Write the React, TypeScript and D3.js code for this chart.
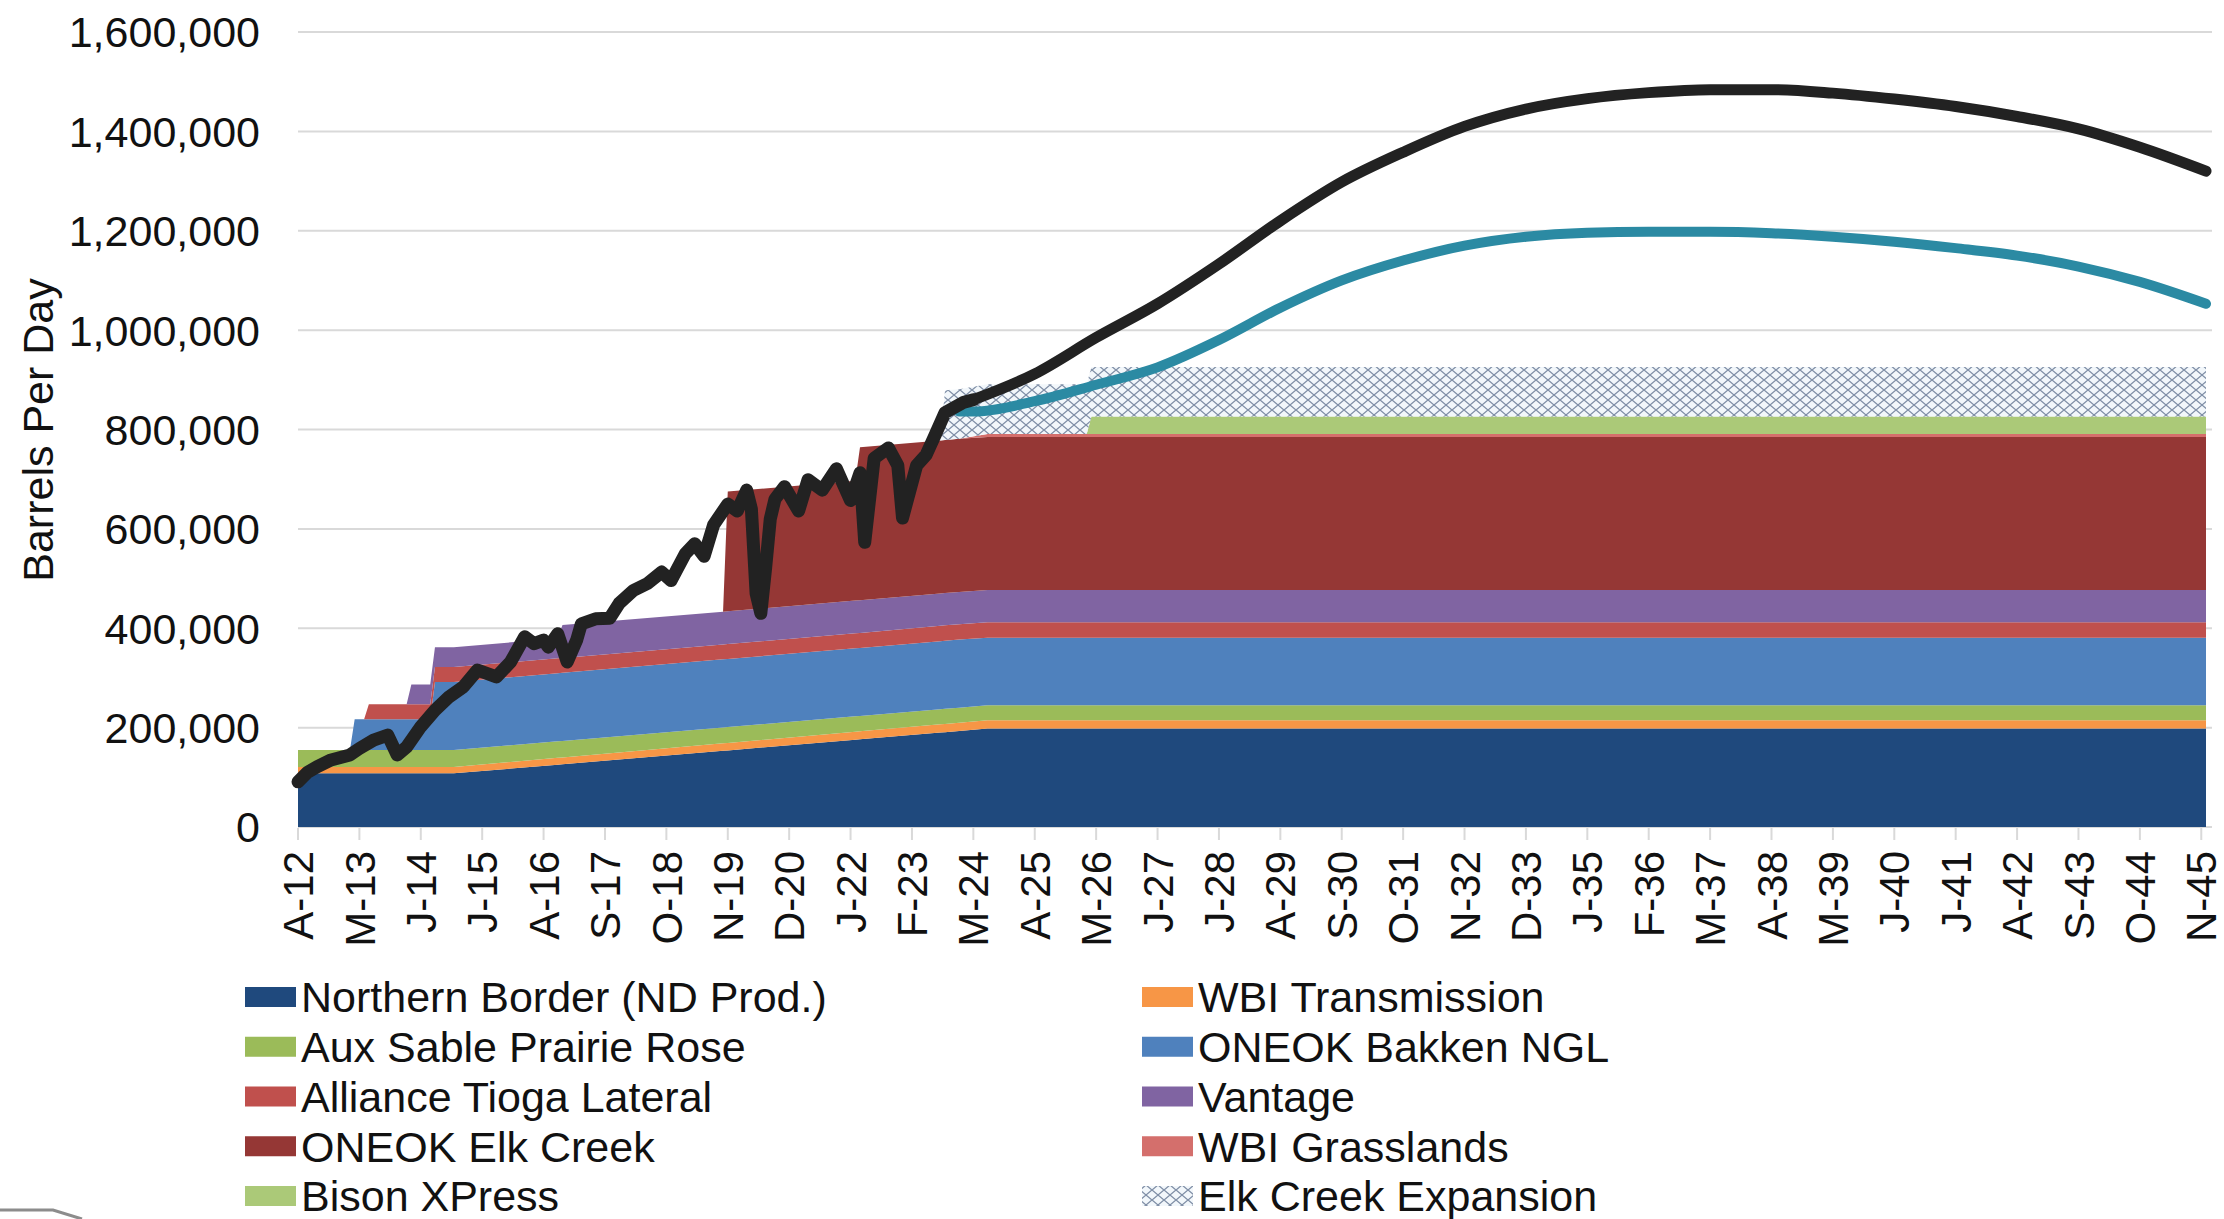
import React from 'react';
import * as d3 from 'd3';

const W = 2224;
const H = 1219;

// Month index counted from Apr-2012 (0) to Dec-2045 (404)
const keyMonths = [0, 11, 12, 14, 15, 23, 24, 28, 29, 33, 55, 56, 90, 91, 118, 119, 136, 137, 140, 146, 167, 168, 404];

// Stacked capacity layers, thousand barrels per day, at keyMonths
const northernBorder = [108, 108, 108, 108, 108, 108, 108, 108, 108, 108, 125.5, 126.3, 153.4, 154.2, 175.7, 176.5, 190, 190.8, 193.2, 198, 198, 198, 198];
const wbiTransmission = [13, 13, 13, 13, 13, 13, 13, 13, 13, 13, 13.8, 13.8, 15, 15.1, 16, 16, 16.6, 16.6, 16.8, 17, 17, 17, 17];
const auxSable = [34, 34, 34, 34, 34, 34, 34, 34, 34, 34, 33.2, 33.2, 32, 31.9, 31, 31, 30.4, 30.4, 30.2, 30, 30, 30, 30];
const bakkenNGL = [0, 0, 62, 62, 62, 62, 62, 62, 137, 137, 137, 137, 137, 137, 137, 137, 137, 137, 137, 136, 136, 136, 136];
const allianceTioga = [0, 0, 0, 0, 30, 30, 30, 30, 30, 30, 30, 30, 30, 30, 30, 30, 31, 31, 31, 31, 31, 31, 31];
const vantage = [0, 0, 0, 0, 0, 0, 40, 40, 40, 40, 40, 66, 66, 66, 66, 66, 65, 65, 65, 65, 65, 65, 65];
const elkCreek = [0, 0, 0, 0, 0, 0, 0, 0, 0, 0, 0, 0, 0, 241, 241, 308, 308, 308, 308, 308, 308, 308, 308];
const wbiGrasslands = [0, 0, 0, 0, 0, 0, 0, 0, 0, 0, 0, 0, 0, 0, 0, 0, 0, 0, 0, 6, 6, 6, 6];
const bisonXpress = [0, 0, 0, 0, 0, 0, 0, 0, 0, 0, 0, 0, 0, 0, 0, 0, 0, 0, 0, 0, 0, 35, 35];
const elkCreekExpansion = [0, 0, 0, 0, 0, 0, 0, 0, 0, 0, 0, 0, 0, 0, 0, 0, 0, 100, 100, 100, 100, 100, 100];

const seriesKeys = ['nb', 'wbiT', 'aux', 'bak', 'all', 'van', 'elk', 'wbiG', 'bison', 'exp'];
const seriesNames = [
  'Northern Border (ND Prod.)', 'WBI Transmission', 'Aux Sable Prairie Rose', 'ONEOK Bakken NGL',
  'Alliance Tioga Lateral', 'Vantage', 'ONEOK Elk Creek', 'WBI Grasslands', 'Bison XPress', 'Elk Creek Expansion',
];
const seriesColors = ['#1f497d', '#f79646', '#9bbb59', '#4f81bd', '#c0504d', '#8064a2', '#953735', '#d46f6c', '#abc978', 'url(#hatch)'];
const seriesValues = [northernBorder, wbiTransmission, auxSable, bakkenNGL, allianceTioga, vantage, elkCreek, wbiGrasslands, bisonXpress, elkCreekExpansion];

// Historical production (black line), thousand bbl/d
const histMonths = [0, 2, 4, 7, 9, 11, 13, 16, 19, 21, 23, 26, 29, 32, 35, 38, 42, 45, 48, 50, 52, 53, 55, 57, 59, 60, 63, 66, 68, 71, 74, 77, 79, 82, 84, 86, 88, 91, 93, 95, 96, 97, 98, 99, 100, 101, 103, 106, 108, 111, 114, 117, 119, 120, 122, 125, 127, 128, 131, 133, 135, 137, 141, 143];
const histValues = [91, 110, 121, 135, 140, 145, 158, 175, 185, 145, 161, 202, 235, 262, 282, 316, 302, 332, 383, 369, 376, 362, 389, 332, 376, 409, 419, 420, 450, 476, 490, 513, 496, 550, 570, 545, 608, 650, 636, 678, 640, 470, 430, 520, 620, 660, 685, 636, 699, 678, 721, 657, 713, 573, 742, 763, 728, 622, 728, 749, 791, 834, 855, 860];

// Forecasts
const highMonths = [143, 156, 169, 182, 195, 208, 221, 234, 247, 260, 273, 286, 299, 312, 325, 338, 351, 364, 377, 390, 404];
const highValues = [860, 912, 985, 1053, 1133, 1220, 1298, 1358, 1410, 1445, 1466, 1478, 1484, 1484, 1477, 1465, 1450, 1430, 1405, 1368, 1320];
const lowMonths = [140, 143, 156, 169, 182, 195, 208, 221, 234, 247, 260, 273, 286, 299, 312, 325, 338, 351, 364, 377, 390, 404];
const lowValues = [836, 836, 857, 890, 925, 980, 1045, 1100, 1140, 1170, 1188, 1196, 1198, 1198, 1195, 1188, 1178, 1165, 1150, 1128, 1097, 1053];

const tickLabels = ['A-12', 'M-13', 'J-14', 'J-15', 'A-16', 'S-17', 'O-18', 'N-19', 'D-20', 'J-22', 'F-23', 'M-24', 'A-25', 'M-26', 'J-27', 'J-28', 'A-29', 'S-30', 'O-31', 'N-32', 'D-33', 'J-35', 'F-36', 'M-37', 'A-38', 'M-39', 'J-40', 'J-41', 'A-42', 'S-43', 'O-44', 'N-45'];
const tickStep = 13;
const yTicks = [0, 200000, 400000, 600000, 800000, 1000000, 1200000, 1400000, 1600000];

const FONT = '"Liberation Sans", Arial, sans-serif';

export default function App() {
  React.useEffect(() => {
    document.body.style.margin = '0';
  }, []);

  const x = d3.scaleLinear().domain([0, 404]).range([298, 2206]);
  const y = d3.scaleLinear().domain([0, 1600000]).range([827, 32]);

  const rows = keyMonths.map((m, i) => {
    const r: any = { month: m };
    seriesKeys.forEach((k, j) => { r[k] = seriesValues[j][i] * 1000; });
    return r;
  });
  const stacked = d3.stack().keys(seriesKeys)(rows);
  const area = d3.area<any>()
    .x((d) => x(d.data.month))
    .y0((d) => y(d[0]))
    .y1((d) => y(d[1]))
    .curve(d3.curveLinear);

  const hist = d3.line<number>()
    .x((_, i) => x(histMonths[i]))
    .y((v) => y(v * 1000))
    .curve(d3.curveLinear)(histValues);
  const high = d3.line<number>()
    .x((_, i) => x(highMonths[i]))
    .y((v) => y(v * 1000))
    .curve(d3.curveMonotoneX)(highValues);
  const low = d3.line<number>()
    .x((_, i) => x(lowMonths[i]))
    .y((v) => y(v * 1000))
    .curve(d3.curveMonotoneX)(lowValues);

  const fmt = d3.format(',');

  const legendRowY = (i: number) => 997 + i * 49.75;

  return (
    <svg width={W} height={H} style={{ position: 'absolute', left: 0, top: 0, background: '#fff' }} fontFamily={FONT}>
      <defs>
        <pattern id="hatch" patternUnits="userSpaceOnUse" width={12} height={10}>
          <rect width={12} height={10} fill="#f2f7fb" />
          <path d="M0,0 L12,10 M12,0 L0,10" stroke="#7f8ea6" strokeWidth={1.3} />
        </pattern>
      </defs>
      <rect width={W} height={H} fill="#fff" />

      {/* gridlines */}
      {yTicks.map((t) => (
        <line key={t} x1={298} x2={2212} y1={y(t)} y2={y(t)} stroke="#d9d9d9" strokeWidth={2} />
      ))}

      {/* stacked areas */}
      {stacked.map((s, i) => (
        <path key={s.key} d={area(s as any) || ''} fill={seriesColors[i]} />
      ))}

      {/* x ticks */}
      {tickLabels.map((lab, i) => {
        const tx = x(i * tickStep);
        return (
          <g key={lab + i}>
            <line x1={tx} x2={tx} y1={828} y2={840} stroke="#d9d9d9" strokeWidth={2} />
            <text transform={`translate(${tx},851) rotate(-90)`} textAnchor="end" dy="0.36em" fontSize={42} fill="#111">{lab}</text>
          </g>
        );
      })}

      {/* y labels */}
      {yTicks.map((t) => (
        <text key={t} x={260} y={y(t)} dy="0.36em" textAnchor="end" fontSize={43} fill="#111">{fmt(t)}</text>
      ))}
      <text transform="translate(53,430) rotate(-90)" textAnchor="middle" fontSize={43} fill="#111">Barrels Per Day</text>

      {/* lines */}
      <path d={low || ''} fill="none" stroke="#2b8aa3" strokeWidth={10} strokeLinecap="round" strokeLinejoin="round" />
      <path d={high || ''} fill="none" stroke="#222" strokeWidth={11} strokeLinecap="round" strokeLinejoin="round" />
      <path d={hist || ''} fill="none" stroke="#222" strokeWidth={13} strokeLinecap="round" strokeLinejoin="round" />

      {/* legend */}
      {seriesNames.map((name, i) => {
        const col = i % 2;
        const row = Math.floor(i / 2);
        const sx = col === 0 ? 245 : 1142;
        const cy = legendRowY(row);
        return (
          <g key={name}>
            <rect x={sx} y={cy - 10} width={51} height={20} fill={seriesColors[i]} />
            <text x={sx + 56} y={cy} dy="0.36em" fontSize={43} fill="#111">{name}</text>
          </g>
        );
      })}

      {/* slide decoration */}
      <polyline points="0,1210 53,1210 82,1219" fill="none" stroke="#8c8c8c" strokeWidth={3} />
    </svg>
  );
}
